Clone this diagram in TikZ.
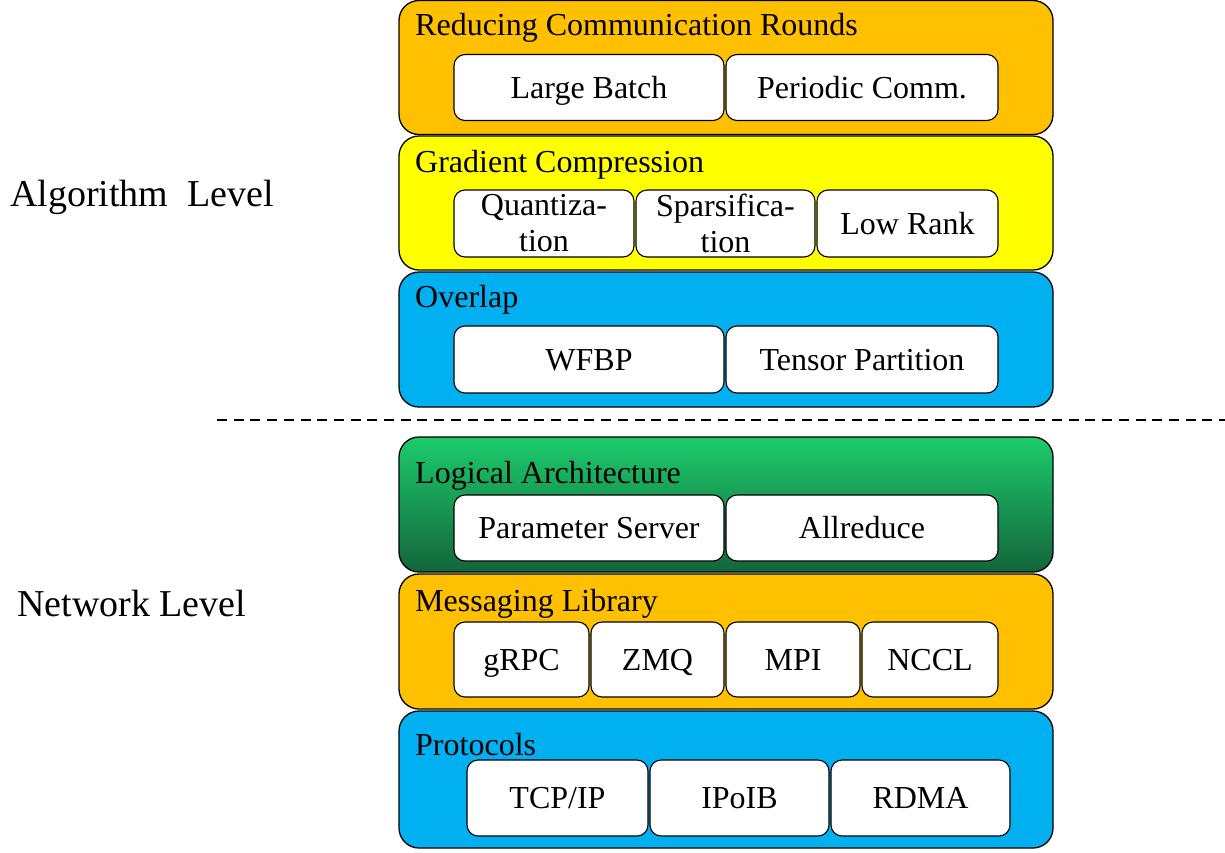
\documentclass[tikz,border=0pt]{standalone}
\usepackage{fontspec}
\setmainfont{Liberation Serif}
\definecolor{cOrange}{HTML}{FFC000}
\definecolor{cYellow}{HTML}{FFFF00}
\definecolor{cBlue}{HTML}{00B0F0}
\definecolor{cGreenTop}{HTML}{1CCB6C}
\definecolor{cGreenBot}{HTML}{13653A}
\begin{document}
\begin{tikzpicture}[x=1pt,y=-1pt,
  outerbox/.style={draw=black, line width=1.3pt, rounded corners=20pt, minimum width=654pt, inner sep=0pt},
  inbase/.style={draw=black, fill=white, line width=1.1pt, rounded corners=11pt, inner sep=0pt, font=\fontsize{32}{36}\selectfont, align=center},
  inbox/.style={inbase, text height=21pt, text depth=0pt},
  ttl/.style={anchor=base west, inner sep=0pt, font=\fontsize{32}{36}\selectfont},
  lvl/.style={anchor=base west, inner sep=0pt, font=\fontsize{38}{42}\selectfont}
]
\useasboundingbox (0,0) rectangle (1225,852);

% ---------------- Algorithm level ----------------
\node[outerbox, fill=cOrange, minimum height=134pt] (rcr) at (726,67.5) {};
\node[ttl] (rcrt) at (415,35) {Reducing Communication Rounds};
\node[inbox, minimum width=270pt, minimum height=66pt] (lb) at (589,87.5) {Large Batch};
\node[inbox, minimum width=272pt, minimum height=66pt] (pc) at (862,87.5) {Periodic Comm.};

\node[outerbox, fill=cYellow, minimum height=134pt] (gc) at (726,203) {};
\node[ttl] (gct) at (415,172) {Gradient Compression};
\node[inbase, minimum width=180pt, minimum height=67pt] (qu) at (544,223.5) {Quantiza-\\tion};
\node[inbase, minimum width=179pt, minimum height=67pt] (sp) at (725.5,223.5) {Sparsifica-\\tion};
\node[inbox, minimum width=181pt, minimum height=67pt] (lr) at (907.5,223.5) {Low Rank};

\node[outerbox, fill=cBlue, minimum height=135pt] (ov) at (726,339.5) {};
\node[ttl] (ovt) at (415,307) {Overlap};
\node[inbox, minimum width=270pt, minimum height=67pt] (wf) at (589,359.5) {WFBP};
\node[inbox, minimum width=272pt, minimum height=67pt] (tp) at (862,359.5) {Tensor Partition};

% ---------------- separator ----------------
\coordinate (dl) at (217,420);
\coordinate (dr) at (1225,420);
\draw[line width=2pt, dash pattern=on 10pt off 6.7pt] (dl) -- (dr);

% ---------------- Network level ----------------
\node[outerbox, top color=cGreenTop, bottom color=cGreenBot, minimum height=135pt] (la) at (726,504.5) {};
\node[ttl] (lat) at (415,483) {Logical Architecture};
\node[inbox, minimum width=270pt, minimum height=66pt] (ps) at (589,528) {Parameter Server};
\node[inbox, minimum width=272pt, minimum height=66pt] (ar) at (862,528) {Allreduce};

\node[outerbox, fill=cOrange, minimum height=135pt] (ml) at (726,641.5) {};
\node[ttl] (mlt) at (415,611) {Messaging Library};
\node[inbox, minimum width=135pt, minimum height=75pt] (grpc) at (521.5,659.5) {gRPC};
\node[inbox, minimum width=133pt, minimum height=75pt] (zmq) at (657.5,659.5) {ZMQ};
\node[inbox, minimum width=134pt, minimum height=75pt] (mpi) at (793,659.5) {MPI};
\node[inbox, minimum width=136pt, minimum height=75pt] (nccl) at (930,659.5) {NCCL};

\node[outerbox, fill=cBlue, minimum height=137pt] (pr) at (726,779.5) {};
\node[ttl] (prt) at (415,755) {Protocols};
\node[inbox, minimum width=181pt, minimum height=76pt] (tcp) at (557.5,798) {TCP/IP};
\node[inbox, minimum width=179pt, minimum height=76pt] (ipoib) at (739.5,798) {IPoIB};
\node[inbox, minimum width=179pt, minimum height=76pt] (rdma) at (920.5,798) {RDMA};

% ---------------- level labels ----------------
\node[lvl] (alg) at (10,206) {Algorithm\ \ Level};
\node[lvl] (net) at (17,616) {Network Level};
\end{tikzpicture}
\end{document}
